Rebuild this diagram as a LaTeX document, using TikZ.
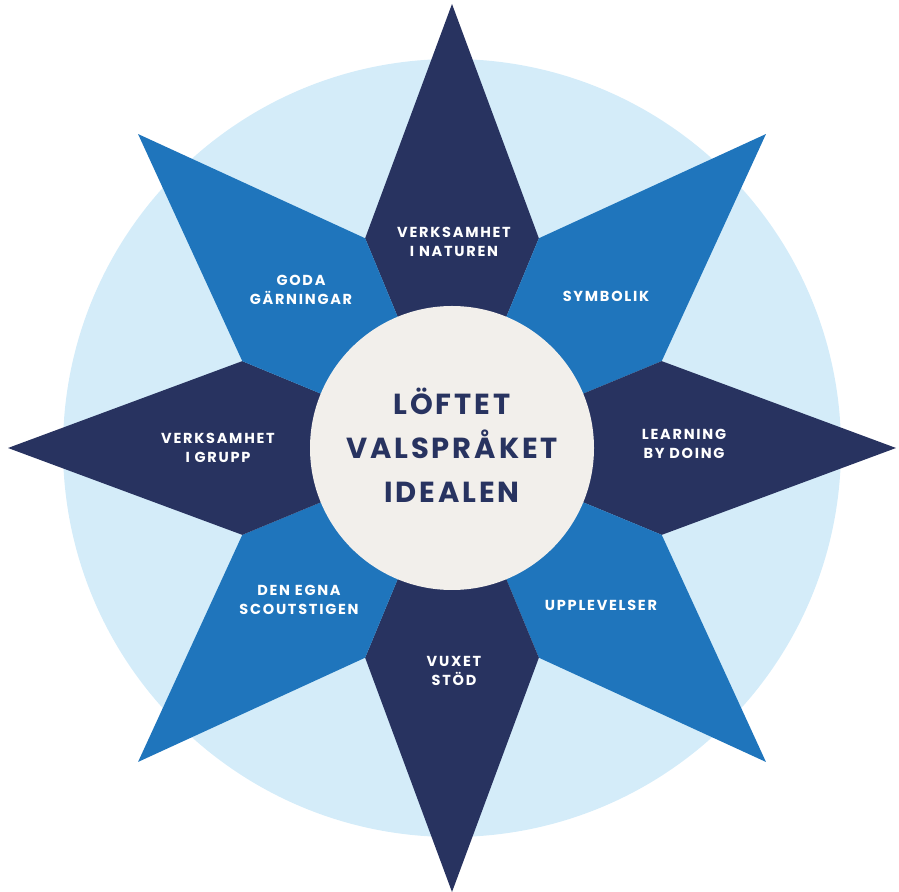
\documentclass[tikz,border=0pt]{standalone}
\usepackage{fontspec}
\usetikzlibrary{calc}
\newfontfamily\labfont{Poppins}[LetterSpace=12]
\newfontfamily\corefont{Poppins}[LetterSpace=10]
\definecolor{skyc}{HTML}{D4ECF9}
\definecolor{midc}{HTML}{1F75BC}
\definecolor{navyc}{HTML}{283360}
\definecolor{corec}{HTML}{F2EFEB}
\tikzset{
  lab/.style={text=white, align=center, font=\labfont\bfseries\fontsize{14.5}{18.5}\selectfont, inner sep=0pt},
  corelab/.style={text=navyc, align=center, font=\corefont\bfseries\fontsize{29}{44}\selectfont, inner sep=0pt},
}
\begin{document}
\begin{tikzpicture}[x=1pt,y=1pt]
\useasboundingbox (0,0) rectangle (899,891);
\coordinate (c) at (452,443);
\fill[skyc] (c) circle (389);
\foreach \k in {0,...,7}{
  \pgfmathsetmacro{\a}{90-45*\k}
  \pgfmathtruncatemacro{\odd}{mod(\k,2)}
  \ifnum\odd=0 \def\col{navyc}\else\def\col{midc}\fi
  \fill[\col] (c) -- ($(c)+(\a+22.5:227)$) -- ($(c)+(\a:444)$) -- ($(c)+(\a-22.5:227)$) -- cycle;
}
\fill[corec] (c) circle (142);
\node[corelab] (core) at (452,446) {LÖFTET\\VALSPRÅKET\\IDEALEN};
\node[lab] (natur) at (454,649) {VERKSAMHET\\I NATUREN};
\node[lab] (symb) at (606,595) {SYMBOLIK};
\node[lab] (learn) at (684,447) {LEARNING\\BY DOING};
\node[lab] (uppl) at (601,286) {UPPLEVELSER};
\node[lab] (vuxet) at (454,220) {VUXET\\STÖD};
\node[lab] (egna) at (299,291) {DEN EGNA\\SCOUTSTIGEN};
\node[lab] (grupp) at (218,443) {VERKSAMHET\\I GRUPP};
\node[lab] (goda) at (301,601) {GODA\\GÄRNINGAR};
\end{tikzpicture}
\end{document}
